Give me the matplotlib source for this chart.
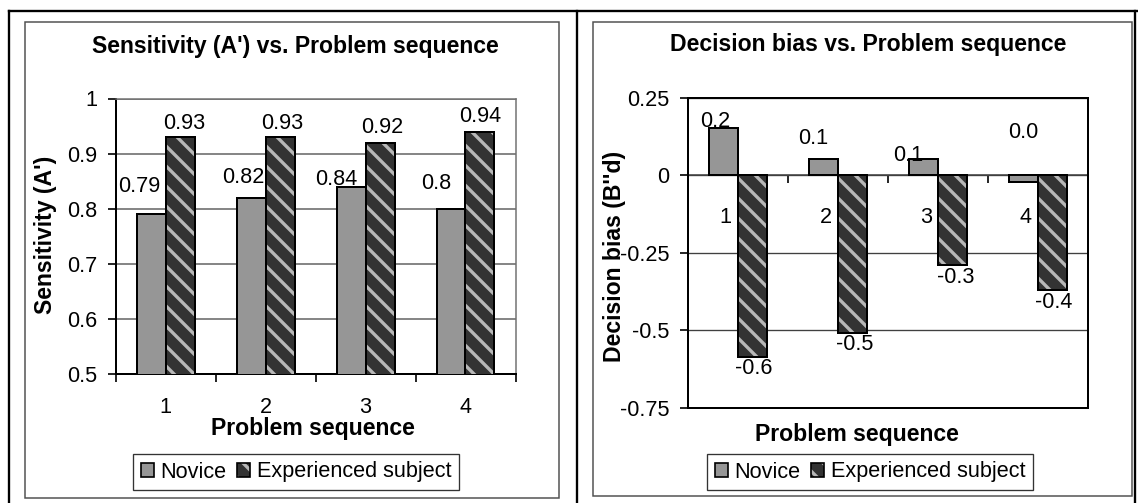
import matplotlib
matplotlib.use("Agg")
import matplotlib.pyplot as plt
import numpy as np
from matplotlib.lines import Line2D
from matplotlib.patches import Patch, Rectangle
from matplotlib.transforms import ScaledTranslation

W, H, DPI = 1138, 503, 120

plt.rcParams["font.family"] = ["Liberation Sans", "DejaVu Sans"]
plt.rcParams["axes.unicode_minus"] = False
plt.rcParams["hatch.linewidth"] = 2.0

# data
sequence = [1, 2, 3, 4]
seq_labels = ["1", "2", "3", "4"]
series_names = ["Novice", "Experienced subject"]
novice_sens = [0.79, 0.82, 0.84, 0.80]
expert_sens = [0.93, 0.93, 0.92, 0.94]
novice_bias = [0.152, 0.052, 0.052, -0.022]
expert_bias = [-0.585, -0.51, -0.29, -0.37]
sens_ticks = [0.5, 0.6, 0.7, 0.8, 0.9, 1.0]
bias_ticks = [-0.75, -0.5, -0.25, 0, 0.25]

# label nudges in pixels (dx, dy)
sens_novice_off = [(-12, 22), (-8, 15), (-15, 2), (-15, 20)]
sens_expert_off = [(4, 8), (2, 8), (2, 10), (0, 10)]
bias_novice_off = [(-8, 1), (-10, 15), (-15, -2), (0, 44)]
bias_expert_off = [(2, -1), (2, -1), (3, -2), (1, -2)]

NOVICE_C = "#969696"
EXPERT_C = "#333333"
STRIPE_C = "#b8b8b8"
BAR_W = 0.29
FS = 13
FS_BOLD = 13.8


def fx(x):
    return x / W


def fy(y):
    return 1 - y / H


def px_box(x0, y0, x1, y1):
    return [fx(x0), fy(y1), (x1 - x0) / W, (y1 - y0) / H]


def draw_bars(ax, novice, expert):
    x = np.array(sequence, float)
    nb = ax.bar(x - BAR_W / 2, novice, BAR_W, color=NOVICE_C,
                edgecolor="black", linewidth=1.2, zorder=3)
    eb = ax.bar(x + BAR_W / 2, expert, BAR_W, color=EXPERT_C,
                edgecolor=STRIPE_C, hatch="\\\\", linewidth=0, zorder=3)
    ax.bar(x + BAR_W / 2, expert, BAR_W, fill=False,
           edgecolor="black", linewidth=1.2, zorder=4)
    return nb, eb


def fmt_label(v, nd):
    s = f"{v:.{nd}f}" if nd else f"{v:g}"
    return "0.0" if s == "-0.0" else s


def add_labels(ax, bars, values, offs, nd, va):
    for rect, v, (dx, dy) in zip(bars, values, offs):
        cx = rect.get_x() + rect.get_width() / 2
        ax.annotate(fmt_label(v, nd), (cx, v), xytext=(dx, dy),
                    textcoords="offset pixels", ha="center", va=va,
                    fontsize=FS, zorder=6, annotation_clip=False)


def legend_for(fig, cx, cy):
    h_nov = Patch(facecolor=NOVICE_C, edgecolor="black", linewidth=1)
    h_exp = (Patch(facecolor=EXPERT_C, edgecolor=STRIPE_C, hatch="\\\\", linewidth=0),
             Patch(fill=False, edgecolor="black", linewidth=1))
    leg = fig.legend([h_nov, h_exp], series_names, loc="center",
                     bbox_to_anchor=(fx(cx), fy(cy)), ncol=2, fontsize=FS,
                     frameon=True, fancybox=False, edgecolor="black",
                     handlelength=0.6, handleheight=0.6, handletextpad=0.3,
                     columnspacing=0.5, borderpad=0.35, borderaxespad=0)
    leg.get_frame().set_linewidth(0.8)
    return leg


fig = plt.figure(figsize=(W / DPI, H / DPI), dpi=DPI)

# page borders and chart frames
for (x0, y0, x1, y1) in [(9, 11, 9, 503), (9, 11, 1138, 11),
                         (577, 11, 577, 503), (1135, 11, 1135, 503)]:
    fig.add_artist(Line2D([fx(x0), fx(x1)], [fy(y0), fy(y1)],
                          color="black", linewidth=1.4))
for (x0, y0, x1, y1) in [(25, 22, 559, 498), (593, 22, 1132, 496)]:
    fig.add_artist(Rectangle((fx(x0), fy(y1)), (x1 - x0) / W, (y1 - y0) / H,
                             fill=False, edgecolor="#505050", linewidth=0.9))

# ---- left chart: sensitivity ----
ax1 = fig.add_axes(px_box(115.5, 98.5, 515.5, 374))
nb, eb = draw_bars(ax1, novice_sens, expert_sens)
add_labels(ax1, nb, novice_sens, sens_novice_off, 0, "baseline")
add_labels(ax1, eb, expert_sens, sens_expert_off, 0, "baseline")
ax1.set_xlim(0.5, 4.5)
ax1.set_ylim(0.5, 1.0)
ax1.set_yticks(sens_ticks)
ax1.set_yticklabels([f"{t:g}" for t in sens_ticks])
ax1.set_xticks(sequence)
ax1.set_xticklabels(seq_labels)
ax1.set_xticks(np.arange(0.5, 5, 1), minor=True)
ax1.tick_params(axis="x", which="major", length=0, pad=14, labelsize=FS)
ax1.tick_params(axis="x", which="minor", length=5, width=1, direction="out")
ax1.tick_params(axis="y", length=5, width=1, direction="out", pad=6, labelsize=FS)
ax1.yaxis.grid(True, color="#606060", linewidth=0.9, zorder=0)
ax1.set_axisbelow(True)
for side in ("top", "right"):
    ax1.spines[side].set_color("#707070")
    ax1.spines[side].set_linewidth(0.9)
for side in ("left", "bottom"):
    ax1.spines[side].set_linewidth(1.2)

fig.text(fx(295), fy(46), "Sensitivity (A') vs. Problem sequence",
         ha="center", va="center", fontsize=FS_BOLD, fontweight="bold")
fig.text(fx(45.5), fy(235), "Sensitivity (A')", rotation=90,
         ha="center", va="center", fontsize=FS_BOLD, fontweight="bold")
fig.text(fx(313), fy(428), "Problem sequence",
         ha="center", va="center", fontsize=FS_BOLD, fontweight="bold")
legend_for(fig, 296, 472)

# ---- right chart: decision bias ----
ax2 = fig.add_axes(px_box(687.5, 97.5, 1088, 408))
nb, eb = draw_bars(ax2, novice_bias, expert_bias)
add_labels(ax2, nb, novice_bias, bias_novice_off, 1, "baseline")
add_labels(ax2, eb, expert_bias, bias_expert_off, 1, "top")
ax2.set_xlim(0.5, 4.5)
ax2.set_ylim(-0.75, 0.25)
ax2.set_yticks(bias_ticks)
ax2.set_yticklabels([f"{t:g}" for t in bias_ticks])
ax2.set_xticks([])
ax2.tick_params(axis="y", length=5, width=1, direction="out", pad=6, labelsize=FS)
ax2.yaxis.grid(True, color="#404040", linewidth=0.8, zorder=0)
ax2.set_axisbelow(True)
for side in ax2.spines:
    ax2.spines[side].set_linewidth(1.2)

# category axis sits on the zero line
zero_ax = ax2.secondary_xaxis(0, transform=ax2.transData)
zero_ax.set_xticks(sequence)
zero_ax.set_xticklabels(seq_labels)
zero_ax.set_xticks(np.arange(0.5, 5, 1), minor=True)
zero_ax.tick_params(axis="x", which="major", length=0, pad=19, labelsize=FS)
zero_ax.tick_params(axis="x", which="minor", length=5, width=1, direction="out")
zero_ax.spines["bottom"].set_color("#505050")
zero_ax.spines["bottom"].set_linewidth(1.0)
shift = ScaledTranslation(-12 / DPI, 0, fig.dpi_scale_trans)
for lab in zero_ax.get_xticklabels():
    lab.set_transform(lab.get_transform() + shift)

fig.text(fx(868), fy(44), "Decision bias vs. Problem sequence",
         ha="center", va="center", fontsize=FS_BOLD, fontweight="bold")
fig.text(fx(614), fy(256), "Decision bias (B''d)", rotation=90,
         ha="center", va="center", fontsize=FS_BOLD, fontweight="bold")
fig.text(fx(857), fy(435), "Problem sequence",
         ha="center", va="center", fontsize=FS_BOLD, fontweight="bold")
legend_for(fig, 870, 472)

fig.savefig("out.png", dpi=DPI)
